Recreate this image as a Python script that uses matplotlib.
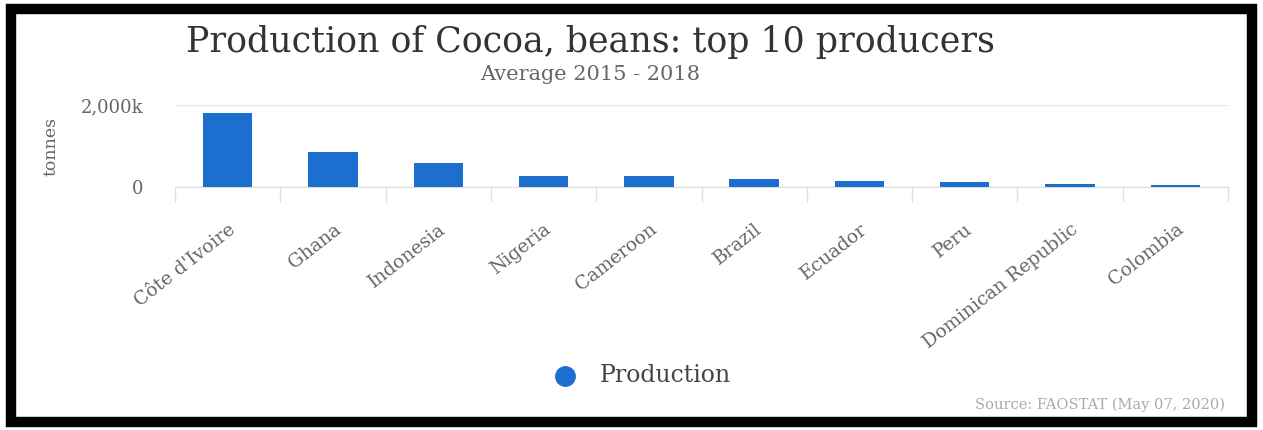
import matplotlib.pyplot as plt
from matplotlib.patches import Rectangle
from matplotlib.lines import Line2D

# Average cocoa bean production 2015-2018 (thousand tonnes)
countries = ['Côte d\'Ivoire', 'Ghana', 'Indonesia', 'Nigeria', 'Cameroon',
             'Brazil', 'Ecuador', 'Peru', 'Dominican Republic', 'Colombia']
production_k = [1810, 855, 590, 275, 262, 195, 150, 112, 80, 55]
y_ticks = [0, 2000]
y_tick_labels = ['0', '2,000k']

blue = '#1c6fcf'
plt.rcParams['font.family'] = 'DejaVu Serif'

fig = plt.figure(figsize=(12.63, 4.30), dpi=100)
ax = fig.add_axes([175 / 1263, 1 - 187 / 430, 1053 / 1263, 82 / 430])

x = range(len(countries))
ax.bar(x, production_k, width=0.47, color=blue, zorder=3)

ax.set_xlim(-0.5, len(countries) - 0.5)
ax.set_ylim(0, 2000)
ax.set_yticks(y_ticks)
ax.set_yticklabels(y_tick_labels, fontsize=13, color='#666666')
ax.tick_params(axis='y', length=0, pad=23)
ax.grid(axis='y', color='#e6e6e6', linewidth=1, zorder=0)

# category boundary ticks, like highcharts
ax.set_xticks([i - 0.5 for i in range(len(countries) + 1)])
ax.set_xticklabels([])
ax.set_xticks(list(x), minor=True)
ax.set_xticklabels(countries, minor=True, rotation=38, ha='right',
                   va='top', rotation_mode='anchor', fontsize=13.5, color='#666666')
ax.tick_params(axis='x', which='major', length=11, color='#e0e0e0', width=1)
ax.tick_params(axis='x', which='minor', length=0, pad=24)

for side in ['top', 'right', 'left']:
    ax.spines[side].set_visible(False)
ax.spines['bottom'].set_color('#dddddd')

ax.set_ylabel('tonnes', fontsize=12.5, color='#666666')
ax.yaxis.set_label_coords(-115 / 1053, 0.5)

fig.text(590 / 1263, 1 - 42 / 430, 'Production of Cocoa, beans: top 10 producers',
         ha='center', va='center', fontsize=25, color='#333333')
fig.text(590 / 1263, 1 - 75 / 430, 'Average 2015 - 2018',
         ha='center', va='center', fontsize=15, color='#666666')

# legend
fig.add_artist(Line2D([565 / 1263], [1 - 376 / 430], marker='o', markersize=14,
                      color=blue, linestyle='none', transform=fig.transFigure))
fig.text(600 / 1263, 1 - 376 / 430, 'Production', ha='left', va='center',
         fontsize=17, color='#444444')

fig.text(1225 / 1263, 1 - 405 / 430, 'Source: FAOSTAT (May 07, 2020)',
         ha='right', va='center', fontsize=10.5, color='#aaaaaa')

# thick black frame around the screenshot
fig.add_artist(Rectangle((10.5 / 1263, 1 - 421.5 / 430), 1241.5 / 1263, 413 / 430,
                         fill=False, edgecolor='#000000', linewidth=7.5,
                         transform=fig.transFigure))

fig.savefig('out.png', dpi=100)
